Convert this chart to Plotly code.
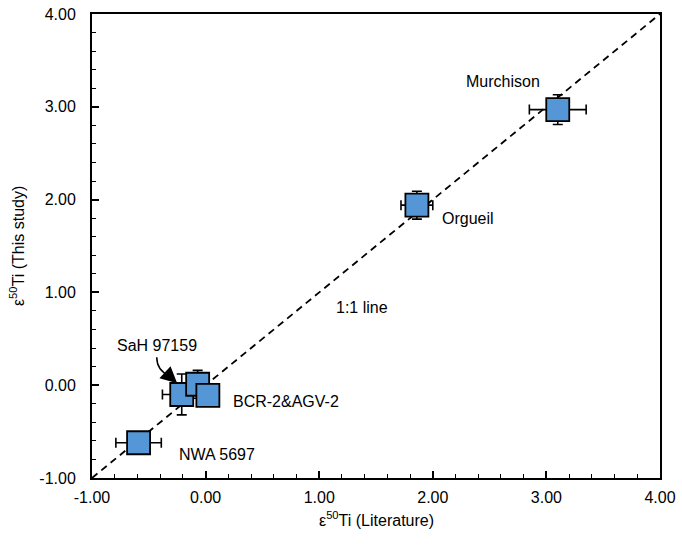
import plotly.graph_objects as go

names = ["Murchison", "Orgueil", "SaH 97159", "Middle", "BCR-2&AGV-2", "NWA 5697"]
lit_x = [3.10, 1.86, -0.21, -0.07, 0.02, -0.59]
study_y = [2.97, 1.94, -0.10, 0.01, -0.11, -0.62]
x_err = [0.25, 0.14, 0.17, 0.08, 0.08, 0.20]
y_err = [0.16, 0.15, 0.22, 0.15, 0.10, 0.07]

fnt = "Liberation Sans, Arial, Helvetica, sans-serif"
fig = go.Figure()

fig.add_trace(go.Scatter(x=[-1, 4], y=[-1, 4], mode="lines",
                         line=dict(color="black", width=1.8, dash="7px,5px"),
                         hoverinfo="skip", showlegend=False))

fig.add_trace(go.Scatter(
    x=lit_x, y=study_y, mode="markers",
    marker=dict(symbol="square", size=23, color="#5596D6",
                line=dict(color="black", width=1.8)),
    error_x=dict(type="data", array=x_err, color="black", thickness=1.6, width=5),
    error_y=dict(type="data", array=y_err, color="black", thickness=1.6, width=5),
    showlegend=False))

ann = [
    dict(x=2.62, y=3.27, text="Murchison"),
    dict(x=2.31, y=1.80, text="Orgueil"),
    dict(x=1.38, y=0.84, text="1:1 line"),
    dict(x=-0.43, y=0.43, text="SaH 97159"),
    dict(x=0.71, y=-0.18, text="BCR-2&AGV-2"),
    dict(x=0.10, y=-0.75, text="NWA 5697"),
]
annotations = [dict(x=a["x"], y=a["y"], text=a["text"], showarrow=False,
                    font=dict(size=16, color="black", family=fnt))
               for a in ann]
annotations.append(dict(x=-0.25, y=0.02, ax=-0.34, ay=0.12, axref="x", ayref="y",
                        text="", showarrow=True, arrowhead=2, arrowsize=2.2,
                        arrowwidth=1.5, arrowcolor="black"))
annotations.append(dict(x=0.5, y=-0.088, xref="paper", yref="paper",
                        xanchor="center", yanchor="middle",
                        text="ε<sup>50</sup>Ti (Literature)", showarrow=False,
                        font=dict(size=16, family=fnt)))
annotations.append(dict(x=-0.132, y=0.5, xref="paper", yref="paper", textangle=-90,
                        xanchor="center", yanchor="middle",
                        text="ε<sup>50</sup>Ti (This study)", showarrow=False,
                        font=dict(size=16, family=fnt)))

fig.update_layout(
    width=682, height=547,
    margin=dict(l=92, r=22, t=14, b=69),
    paper_bgcolor="white", plot_bgcolor="white",
    font=dict(family=fnt, size=16, color="black"),
    annotations=annotations,
    shapes=[dict(type="path", xref="x", yref="y",
                 path="M -0.43 0.30 Q -0.43 0.16 -0.32 0.10",
                 line=dict(color="black", width=1.5))],
)
axis_common = dict(range=[-1, 4], showgrid=False, zeroline=False, automargin=False,
                   showline=True, linecolor="black", linewidth=2, mirror=True,
                   ticks="inside", ticklen=7, tickwidth=1.5, tickcolor="black",
                   tickvals=[-1, 0, 1, 2, 3, 4],
                   ticktext=["-1.00", "0.00", "1.00", "2.00", "3.00", "4.00"],
                   minor=dict(ticks="inside", ticklen=4, tickwidth=1.2,
                              tickcolor="black", dtick=0.2, tick0=-1),
                   tickfont=dict(size=16, family=fnt))
fig.update_xaxes(**axis_common, ticklabelstandoff=4)
fig.update_yaxes(**axis_common, ticklabelstandoff=11)
fig.write_html("out.html", config={"displayModeBar": False},
               post_script="document.body.style.margin='0';document.body.style.overflow='hidden';")
